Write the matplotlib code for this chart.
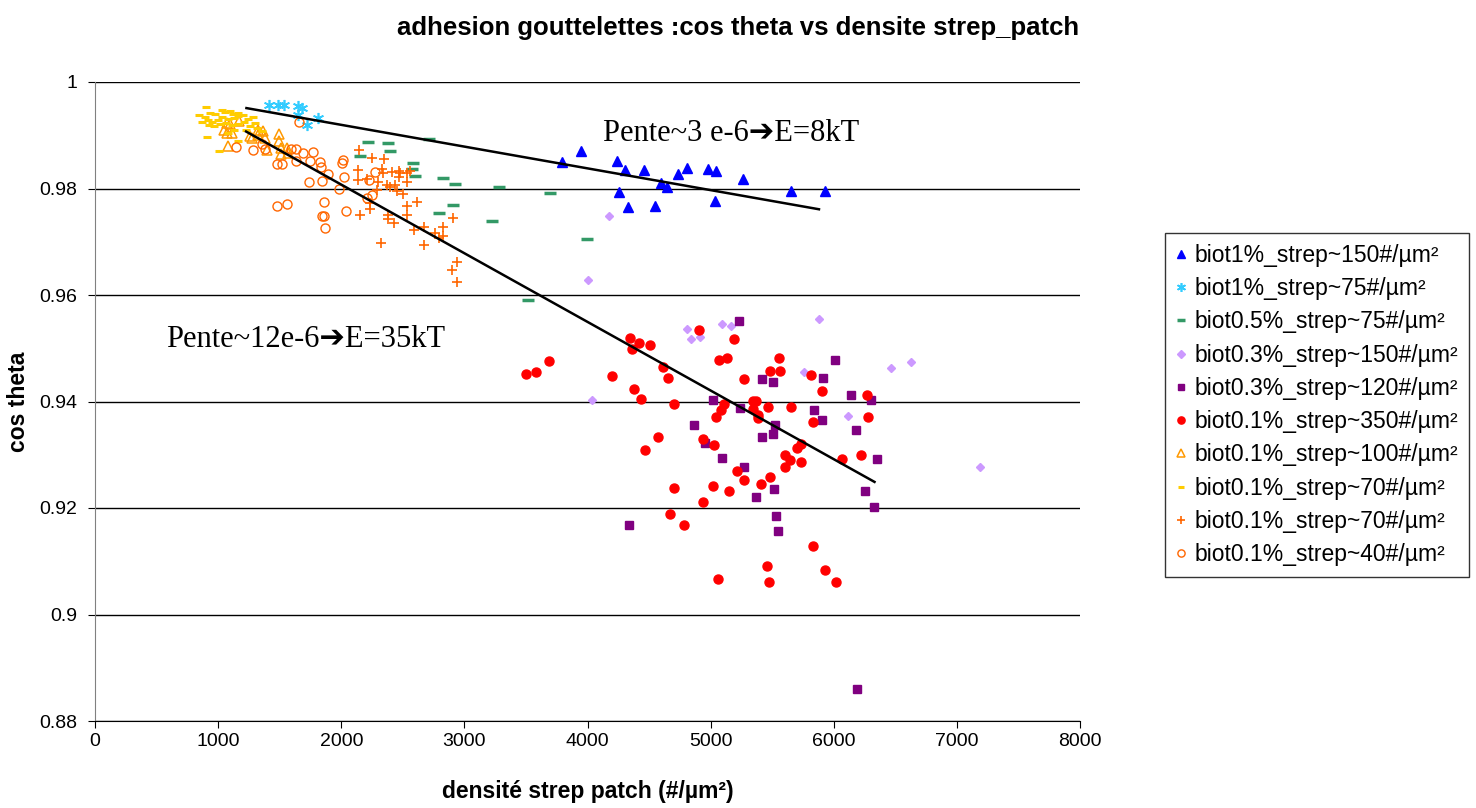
import matplotlib
matplotlib.use("Agg")
import matplotlib.pyplot as plt

# ---------------- data ----------------
blue_x = [3794, 3948, 4241, 4306, 4460, 4736, 4809, 4980, 5045, 5264, 4598, 4647, 4257, 4330, 4550, 5037, 5654, 5930]
blue_y = [0.9850, 0.9870, 0.9852, 0.9835, 0.9835, 0.9827, 0.9838, 0.9836, 0.9833, 0.9817, 0.9810, 0.9803, 0.9793, 0.9765, 0.9767, 0.9777, 0.9795, 0.9795]

cyan_x = [1414, 1487, 1535, 1649, 1682, 1649, 1812, 1722]
cyan_y = [0.9957, 0.9957, 0.9957, 0.9955, 0.9951, 0.9938, 0.9932, 0.9919]

green_x = [2218, 2380, 2397, 2153, 2583, 2575, 2600, 2713, 2827, 2925, 3282, 3696, 2908, 2795, 3225, 3997, 3518]
green_y = [0.9887, 0.9885, 0.9870, 0.9861, 0.9848, 0.9837, 0.9823, 0.9893, 0.9820, 0.9808, 0.9803, 0.9792, 0.9769, 0.9754, 0.9739, 0.9705, 0.9591]

lav_x = [4176, 4005, 4038, 4809, 4842, 4915, 5094, 5167, 5882, 5760, 6467, 6629, 6117, 7190]
lav_y = [0.9748, 0.9628, 0.9403, 0.9536, 0.9517, 0.9521, 0.9546, 0.9542, 0.9555, 0.9455, 0.9463, 0.9474, 0.9373, 0.9277]

purple_x = [4866, 4338, 5232, 6012, 5419, 5508, 5914, 5021, 5240, 6142, 6304, 5841, 5906, 5524, 6182, 5419, 5508, 4956, 5094, 5272, 6353, 5516, 5370, 6255, 6329, 5532, 5549, 6190]
purple_y = [0.9356, 0.9168, 0.9551, 0.9478, 0.9442, 0.9437, 0.9444, 0.9403, 0.9388, 0.9412, 0.9403, 0.9384, 0.9365, 0.9356, 0.9347, 0.9333, 0.9339, 0.9322, 0.9294, 0.9277, 0.9292, 0.9236, 0.9221, 0.9232, 0.9202, 0.9185, 0.9157, 0.8860]

red_x = [4346, 4419, 4509, 4363, 3688, 3501, 3583, 4200, 4614, 4655, 4379, 4436, 4704, 4574, 4468, 4704, 4671, 4785,
         4907, 5191, 5069, 5134, 5557, 5484, 5565, 5272, 5817, 5906, 5346, 5370, 5110, 5086, 5045, 5467, 5654, 5346,
         5386, 5386, 5833, 6272, 6280, 4939, 5029, 5736, 5703, 5606, 5646, 5736, 5606, 6069, 6223, 5216, 5272, 5484,
         5411, 5021, 5151, 4939, 5833, 5459, 5931, 5061, 5476, 6020]
red_y = [0.9519, 0.9510, 0.9506, 0.9499, 0.9476, 0.9452, 0.9455, 0.9448, 0.9465, 0.9444, 0.9423, 0.9405, 0.9395, 0.9333, 0.9309, 0.9238, 0.9189, 0.9168,
         0.9534, 0.9517, 0.9478, 0.9482, 0.9482, 0.9457, 0.9457, 0.9442, 0.9450, 0.9420, 0.9401, 0.9401, 0.9395, 0.9384, 0.9371, 0.9390, 0.9390, 0.9386,
         0.9375, 0.9369, 0.9361, 0.9412, 0.9371, 0.9330, 0.9318, 0.9320, 0.9313, 0.9300, 0.9290, 0.9286, 0.9277, 0.9292, 0.9300, 0.9269, 0.9253, 0.9258,
         0.9245, 0.9241, 0.9232, 0.9211, 0.9129, 0.9091, 0.9084, 0.9067, 0.9061, 0.9061]

otri_x = [1072, 1097, 1170, 1048, 1072, 1113, 1259, 1276, 1324, 1324, 1381, 1365, 1495, 1495, 1511, 1560, 1397, 1511, 1568, 1080]
otri_y = [0.9923, 0.9921, 0.9927, 0.9910, 0.9904, 0.9904, 0.9899, 0.9895, 0.9910, 0.9900, 0.9895, 0.9908, 0.9902, 0.9889, 0.9876, 0.9876, 0.9872, 0.9865, 0.9867, 0.9880]

yel_x = [902, 934, 975, 1032, 1056, 1097, 1121, 1162, 1202, 894, 869, 918, 951, 999, 1032, 1080, 1129, 1162, 1243,
         1284, 926, 967, 1015, 1064, 1113, 1162, 1210, 1300, 1316, 1357, 910, 1162, 1007, 1080, 1227, 1259, 1129, 845]
yel_y = [0.9953, 0.9942, 0.9940, 0.9947, 0.9944, 0.9946, 0.9940, 0.9942, 0.9938, 0.9934, 0.9925, 0.9929, 0.9925, 0.9929, 0.9934, 0.9931, 0.9932, 0.9936, 0.9931,
         0.9934, 0.9919, 0.9917, 0.9921, 0.9923, 0.9919, 0.9921, 0.9925, 0.9923, 0.9914, 0.9908, 0.9897, 0.9889, 0.9870, 0.9904, 0.9910, 0.9917, 0.9910, 0.9938]

plus_x = [2145, 2250, 2348, 2137, 2137, 2210, 2332, 2340, 2413, 2470, 2559, 2478, 2535, 2299, 2372, 2437, 2535, 2470, 2291,
          2453, 2502, 2397, 2234, 2234, 2153, 2380, 2535, 2429, 2380, 2616, 2535, 2592, 2673, 2827, 2762, 2795, 2827, 2673,
          2324, 2908, 2941, 2900, 2941]
plus_y = [0.9872, 0.9857, 0.9855, 0.9835, 0.9816, 0.9818, 0.9837, 0.9829, 0.9831, 0.9833, 0.9833, 0.9829, 0.9829, 0.9812, 0.9807, 0.9807, 0.9812, 0.9822, 0.9797,
          0.9795, 0.9790, 0.9803, 0.9773, 0.9761, 0.9750, 0.9750, 0.9750, 0.9735, 0.9743, 0.9775, 0.9767, 0.9722, 0.9728, 0.9728, 0.9716, 0.9707, 0.9711, 0.9694,
          0.9698, 0.9745, 0.9662, 0.9647, 0.9624]

ocirc_x = [1145, 1284, 1357, 1381, 1479, 1519, 1592, 1633, 1633, 1657, 1690, 1771, 1747, 1828, 1836, 1893, 1739, 1844,
           2015, 2007, 2023, 1982, 1479, 1560, 1860, 2039, 1844, 1860, 1869, 2275, 2226, 2250, 2210]
ocirc_y = [0.9878, 0.9872, 0.9884, 0.9874, 0.9846, 0.9846, 0.9874, 0.9874, 0.9852, 0.9925, 0.9867, 0.9869, 0.9852, 0.9850, 0.9840, 0.9827, 0.9812, 0.9814,
           0.9854, 0.9848, 0.9822, 0.9799, 0.9767, 0.9771, 0.9775, 0.9758, 0.9748, 0.9748, 0.9726, 0.9831, 0.9816, 0.9788, 0.9782]

trend1_x = [1230, 5880]
trend1_y = [0.9951, 0.9761]
trend2_x = [1227, 6331]
trend2_y = [0.9907, 0.9249]

labels = ["biot1%_strep~150#/µm²", "biot1%_strep~75#/µm²", "biot0.5%_strep~75#/µm²",
          "biot0.3%_strep~150#/µm²", "biot0.3%_strep~120#/µm²", "biot0.1%_strep~350#/µm²",
          "biot0.1%_strep~100#/µm²", "biot0.1%_strep~70#/µm²", "biot0.1%_strep~70#/µm²",
          "biot0.1%_strep~40#/µm²"]

# ---------------- figure ----------------
plt.rcParams['font.family'] = ['Liberation Sans', 'DejaVu Sans']
fig = plt.figure(figsize=(14.76, 8.08), dpi=100)
ax = fig.add_axes([95/1476, 87/808, 985/1476, 639/808])

ax.plot(blue_x, blue_y, ls='none', marker='^', ms=7, color='#0000FF', mec='#0000FF', label=labels[0], zorder=3)
ax.plot(cyan_x, cyan_y, ls='none', marker=(6, 2, 0), ms=8, mew=1.2, color='#33CCFF', label=labels[1], zorder=3)
ax.plot(green_x, green_y, ls='none', marker='_', ms=8, mew=2.5, color='#339966', label=labels[2], zorder=3)
ax.plot(lav_x, lav_y, ls='none', marker='D', ms=4.5, color='#CC99FF', mec='#CC99FF', label=labels[3], zorder=3)
ax.plot(purple_x, purple_y, ls='none', marker='s', ms=5.5, color='#800080', mec='#800080', label=labels[4], zorder=3)
ax.plot(red_x, red_y, ls='none', marker='o', ms=6.5, color='#FF0000', mec='#FF0000', label=labels[5], zorder=3)
ax.plot(otri_x, otri_y, ls='none', marker='^', ms=7.5, mfc='none', mec='#FF9900', mew=1.1, label=labels[6], zorder=3)
ax.plot(yel_x, yel_y, ls='none', marker='_', ms=5.5, mew=2.2, color='#FFCC00', label=labels[7], zorder=3)
ax.plot(plus_x, plus_y, ls='none', marker='+', ms=7.5, mew=1.2, color='#FF6600', label=labels[8], zorder=3)
ax.plot(ocirc_x, ocirc_y, ls='none', marker='o', ms=6.5, mfc='none', mec='#FF6600', mew=1.0, label=labels[9], zorder=3)

ax.plot(trend1_x, trend1_y, color='black', lw=1.8, zorder=4)
ax.plot(trend2_x, trend2_y, color='black', lw=1.8, zorder=4)

ax.set_xlim(0, 8000)
ax.set_ylim(0.88, 1.0)
ax.set_xticks(range(0, 8001, 1000))
ax.set_yticks([0.88, 0.90, 0.92, 0.94, 0.96, 0.98, 1.0])
ax.set_yticklabels(['0.88', '0.9', '0.92', '0.94', '0.96', '0.98', '1'])
ax.yaxis.grid(True, color='black', lw=1.0)
ax.set_axisbelow(True)
for s in ['top', 'right']:
    ax.spines[s].set_visible(False)
ax.spines['left'].set_color('#808080')
ax.spines['bottom'].set_color('black')
ax.tick_params(axis='both', direction='out', length=5, labelsize=14, colors='black')
ax.tick_params(axis='y', pad=8)

ax.set_xlabel("densité strep patch (#/µm²)", fontsize=16.5, fontweight='bold', labelpad=22)
ax.set_ylabel("cos theta", fontsize=16.5, fontweight='bold')
ax.yaxis.set_label_coords((30 - 95) / 985, 0.5)

fig.text(0.5, 1 - 28/808, "adhesion gouttelettes :cos theta vs densite strep_patch",
         ha='center', va='center', fontsize=18.5, fontweight='bold')

ax.text(4127, 0.9904, "Pente~3 e-6➔E=8kT", fontsize=22, ha='left', va='center',
        family=['Liberation Serif', 'DejaVu Sans'])
ax.text(577, 0.9516, "Pente~12e-6➔E=35kT", fontsize=22, ha='left', va='center',
        family=['Liberation Serif', 'DejaVu Sans'])

leg = ax.legend(loc='center left', bbox_to_anchor=(1165/1476, 1 - 405/808), bbox_transform=fig.transFigure,
                fontsize=16.5, frameon=True, fancybox=False, edgecolor='black', handlelength=0.5,
                handletextpad=0.35, labelspacing=0.45, borderpad=0.45, borderaxespad=0.0, markerscale=0.8)
leg.get_frame().set_linewidth(1.0)

fig.savefig("out.png", dpi=100)
